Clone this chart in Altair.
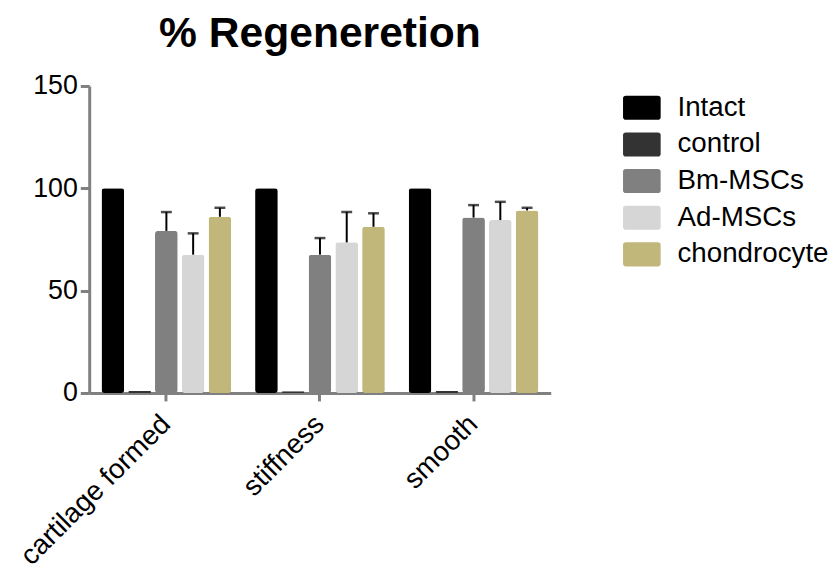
import altair as alt
import pandas as pd

groups = ["cartilage formed", "stiffness", "smooth"]
series = ["Intact", "control", "Bm-MSCs", "Ad-MSCs", "chondrocyte"]
colors = ["#000000", "#333333", "#808080", "#d6d6d6", "#c2b77b"]

# values per series, in group order
intact = [100, 100, 100]
control = [1.0, 0.8, 1.0]
bm = [79.2, 67.6, 85.7]
ad = [67.6, 73.6, 84.5]
chond = [86.1, 81.2, 89.2]

# upper error (SD)
intact_err = [0, 0, 0]
control_err = [0, 0, 0]
bm_err = [9.2, 8.1, 6.1]
ad_err = [10.4, 14.8, 8.9]
chond_err = [4.4, 6.6, 1.3]

vals = [intact, control, bm, ad, chond]
errs = [intact_err, control_err, bm_err, ad_err, chond_err]

rows = []
for s, v, e in zip(series, vals, errs):
    for g, vv, ee in zip(groups, v, e):
        rows.append({"group": g, "series": s, "value": vv, "err": ee, "hi": vv + ee})
df = pd.DataFrame(rows)

FONT = "Liberation Sans"
GRAY = "#808080"
ROUNDED = ("M-0.85,-0.64H0.85Q1,-0.64 1,-0.49V0.49Q1,0.64 0.85,0.64"
           "H-0.85Q-1,0.64 -1,0.49V-0.49Q-1,-0.64 -0.85,-0.64Z")

x = alt.X("group:N", sort=groups, title=None,
          scale=alt.Scale(paddingInner=0.155, paddingOuter=0.08),
          axis=alt.Axis(labelAngle=-45, labelFontSize=28, labelColor="black",
                        labelFont=FONT, labelAlign="right", labelBaseline="middle",
                        labelPadding=19, domainColor=GRAY, domainWidth=3,
                        tickColor=GRAY, tickWidth=3, tickSize=8, labelLimit=400))
xo = alt.XOffset("series:N", sort=series,
                 scale=alt.Scale(paddingInner=0.15, paddingOuter=0))

bars = alt.Chart(df).mark_bar(cornerRadius=3).encode(
    x=x,
    xOffset=xo,
    y=alt.Y("value:Q", title=None,
            scale=alt.Scale(domain=[0, 150], nice=False),
            axis=alt.Axis(values=[0, 50, 100, 150], grid=False, labelFontSize=27,
                          labelColor="black", labelFont=FONT, labelPadding=3,
                          domainColor=GRAY, domainWidth=3, tickColor=GRAY,
                          tickWidth=3, tickSize=9)),
    color=alt.Color("series:N", sort=series,
                    scale=alt.Scale(domain=series, range=colors),
                    legend=alt.Legend(title=None, orient="none", legendX=539,
                                      legendY=3, labelFontSize=28, labelFont=FONT,
                                      labelColor="black", labelOffset=17,
                                      symbolType=ROUNDED,
                                      symbolSize=1444, symbolStrokeWidth=0,
                                      symbolOpacity=1, rowPadding=4, padding=0)),
)

errdf = df[df["err"] > 0]
rules = alt.Chart(errdf).mark_rule(color="black", strokeWidth=2).encode(
    x=alt.X("group:N", sort=groups),
    xOffset=alt.XOffset("series:N", sort=series),
    y="value:Q",
    y2="hi:Q",
)
caps = alt.Chart(errdf).mark_tick(color="black", thickness=2.5, size=11).encode(
    x=alt.X("group:N", sort=groups),
    xOffset=alt.XOffset("series:N", sort=series),
    y="hi:Q",
)

chart = alt.layer(bars, rules, caps).properties(
    width=466, height=310,
    title=alt.Title("% Regeneretion", fontSize=43, font=FONT, fontWeight="bold",
                    color="black", anchor="middle", offset=16),
    autosize=alt.AutoSizeParams(type="none"),
    padding={"left": 82, "top": 76, "right": 284, "bottom": 180},
).configure_view(stroke=None)

chart.save("out.html", embed_options={"renderer": "svg", "actions": False})
